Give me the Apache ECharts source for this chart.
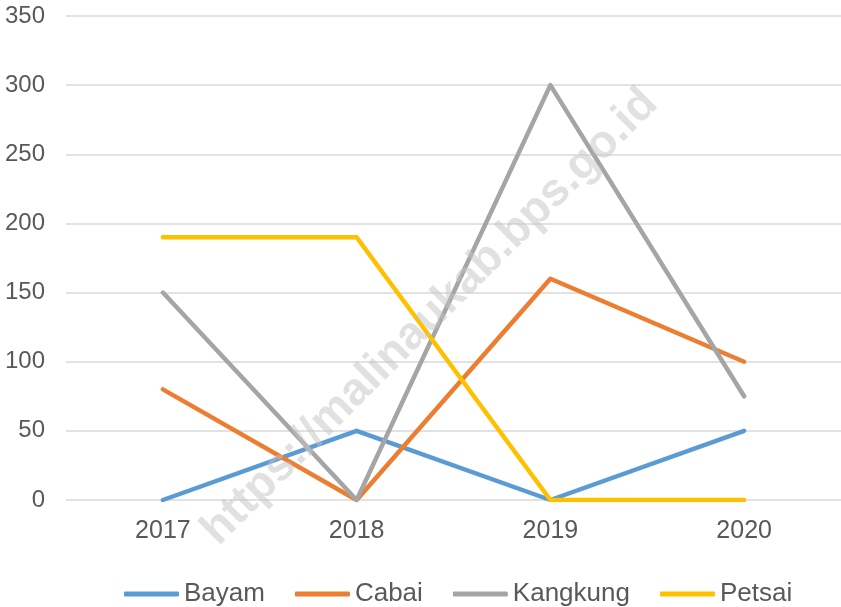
<!DOCTYPE html>
<html>
<head>
<meta charset="utf-8">
<script src="https://cdn.jsdelivr.net/npm/echarts@6/dist/echarts.min.js"></script>
<style>
  html, body { margin: 0; padding: 0; background: #fff; }
  #chart { width: 841px; height: 607px; }
</style>
</head>
<body>
<div id="chart"></div>
<script>
// data
const years = ['2017', '2018', '2019', '2020'];
const bayam = [0, 50, 0, 50];
const cabai = [80, 0, 160, 100];
const kangkung = [150, 0, 300, 75];
const petsai = [190, 190, 0, 0];

const chart = echarts.init(document.getElementById('chart'));

const font = 'Liberation Sans, Arial, sans-serif';

function lineSeries(name, data, color) {
  return {
    name: name,
    type: 'line',
    data: data,
    symbol: 'none',
    lineStyle: { width: 4.5, color: color, cap: 'round', join: 'round' },
    itemStyle: { color: color }
  };
}

const option = {
  animation: false,
  grid: { left: 66, top: 16, width: 777, height: 484 },
  xAxis: {
    type: 'category',
    data: years,
    boundaryGap: true,
    axisLine: { show: false },
    axisTick: { show: false },
    axisLabel: { margin: 19, fontFamily: font, fontSize: 25, color: '#595959' }
  },
  yAxis: {
    type: 'value',
    min: 0,
    max: 350,
    interval: 50,
    axisLine: { show: false },
    axisTick: { show: false },
    axisLabel: { margin: 21, fontFamily: font, fontSize: 24, color: '#595959' },
    splitLine: { lineStyle: { color: '#d9d9d9', width: 1.5 } }
  },
  legend: {
    top: 576,
    left: 119,
    itemWidth: 55,
    itemHeight: 5,
    itemGap: 30,
    icon: 'roundRect',
    textStyle: { fontFamily: font, fontSize: 26, color: '#595959' },
    data: ['Bayam', 'Cabai', 'Kangkung', 'Petsai']
  },
  series: [
    lineSeries('Bayam', bayam, '#5b9bd5'),
    lineSeries('Cabai', cabai, '#ed7d31'),
    lineSeries('Kangkung', kangkung, '#a5a5a5'),
    lineSeries('Petsai', petsai, '#ffc000')
  ],
  graphic: [{
    type: 'text',
    x: 430,
    y: 317,
    rotation: Math.PI / 4,
    z: 100,
    style: {
      text: 'https://malinaukab.bps.go.id',
      fontFamily: font,
      fontWeight: 'bold',
      fontSize: 46,
      fill: 'rgba(195,195,195,0.5)',
      align: 'center',
      verticalAlign: 'middle'
    }
  }]
};

chart.setOption(option);
</script>
</body>
</html>
